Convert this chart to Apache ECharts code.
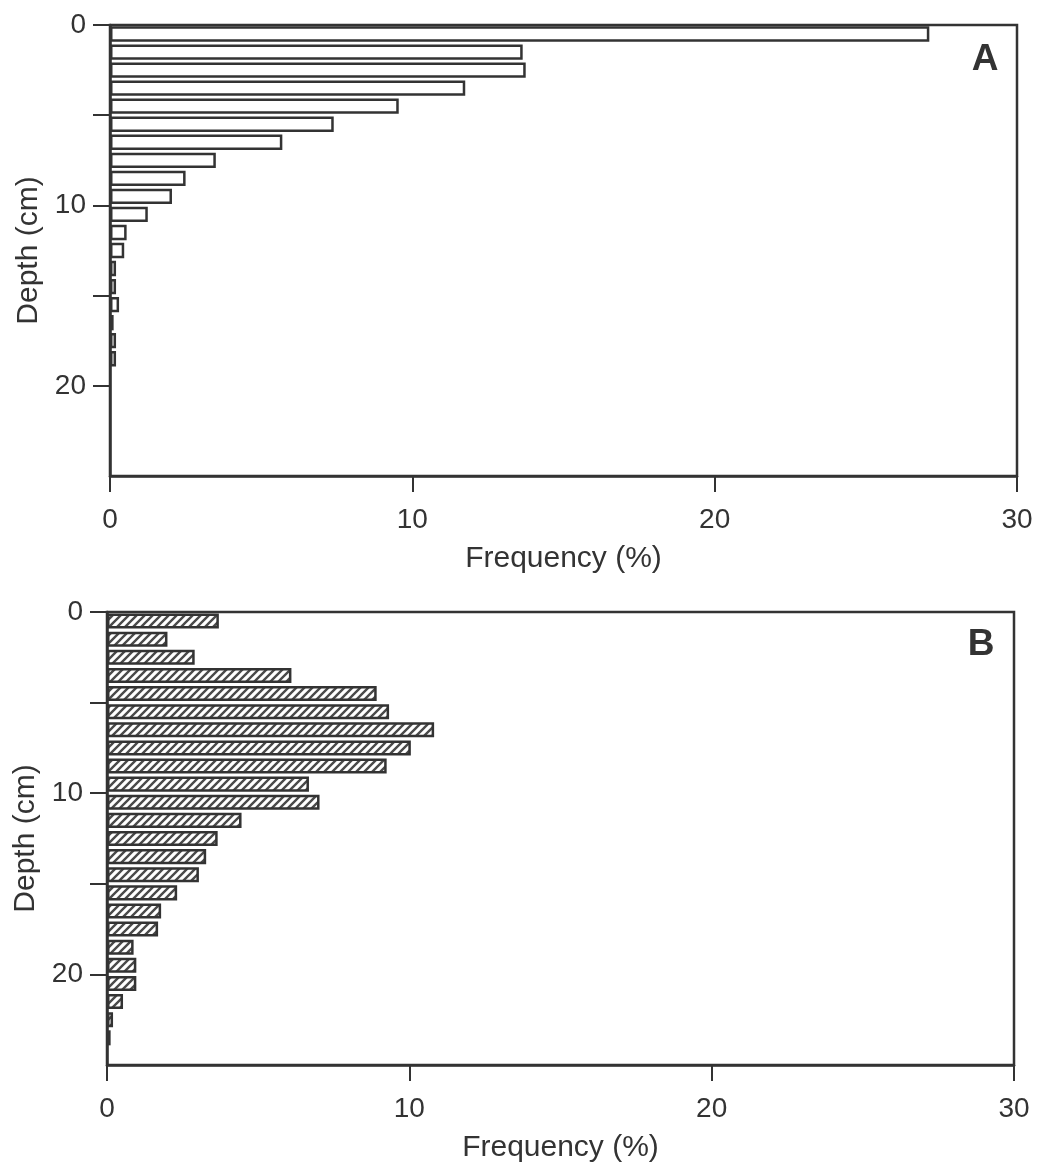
<!DOCTYPE html>
<html lang="en">
<head>
    <meta charset="UTF-8">
    <title>Depth distribution</title>
    <script src="https://cdn.jsdelivr.net/npm/echarts@6/dist/echarts.min.js"></script>
    <style type="text/css">
        html, body { margin:0; padding:0; background:#fff; }
        #main{ width:1038px; height:1169px; }
    </style>
</head>
<body>
<div id="main"></div>
<script type="application/javascript">
    // depth bins of 1 cm, from the surface down
    var depthBins = ['0-1','1-2','2-3','3-4','4-5','5-6','6-7','7-8','8-9','9-10',
                     '10-11','11-12','12-13','13-14','14-15','15-16','16-17','17-18','18-19','19-20',
                     '20-21','21-22','22-23','23-24','24-25'];
    // frequency (%) per bin, panel A (open bars)
    var freqA = [27.1, 13.65, 13.75, 11.75, 9.55, 7.4, 5.7, 3.5, 2.5, 2.05,
                 1.25, 0.55, 0.47, 0.2, 0.2, 0.3, 0.12, 0.2, 0.2];
    // frequency (%) per bin, panel B (hatched bars)
    var freqB = [3.7, 2.0, 2.9, 6.1, 8.92, 9.33, 10.82, 10.05, 9.25, 6.68,
                 7.03, 4.45, 3.66, 3.28, 3.04, 2.32, 1.79, 1.69, 0.88, 0.97,
                 0.97, 0.53, 0.2, 0.12];
    var depthTicks = [0, 5, 10, 15, 20];
    var depthLabels = [0, 10, 20];
    var freqTicks = [0, 10, 20, 30];

    var ink = '#333';
    var font = '"Liberation Sans", Arial, Helvetica, sans-serif';

    // diagonal hatch for panel B
    var hatch = document.createElement('canvas');
    hatch.width = 8;
    hatch.height = 8;
    var hc = hatch.getContext('2d');
    hc.fillStyle = '#fff';
    hc.fillRect(0, 0, 8, 8);
    hc.strokeStyle = '#4a4a4a';
    hc.lineWidth = 2.4;
    hc.beginPath();
    hc.moveTo(-1, 9); hc.lineTo(9, -1);
    hc.moveTo(-1, 1); hc.lineTo(1, -1);
    hc.moveTo(7, 9); hc.lineTo(9, 7);
    hc.stroke();

    var grids = [
        {left:110, top:25, width:907, height:451},
        {left:107, top:612, width:907, height:453}
    ];

    function xAxisFor(i) {
        return {
            type:'value', gridIndex:i, min:0, max:30, interval:10, position:'bottom',
            name:'Frequency (%)', nameLocation:'middle', nameGap:68,
            nameTextStyle:{color:ink, fontSize:30, fontFamily:font},
            axisLine:{show:true, onZero:false, lineStyle:{color:ink, width:2.5}},
            axisTick:{show:true, length:16, customValues:freqTicks, lineStyle:{color:ink, width:2}},
            axisLabel:{color:ink, fontSize:28, fontFamily:font, margin:30, customValues:freqTicks},
            splitLine:{show:false}
        };
    }
    function depthAxisFor(i) {
        return {
            type:'value', gridIndex:i, min:0, max:25, interval:5, inverse:true, position:'left',
            name:'Depth (cm)', nameLocation:'middle', nameGap:57, nameRotate:90,
            nameTextStyle:{color:ink, fontSize:30, fontFamily:font},
            axisLine:{show:true, onZero:false, lineStyle:{color:ink, width:2.5}},
            axisTick:{show:true, length:17, customValues:depthTicks, lineStyle:{color:ink, width:2}},
            axisLabel:{color:ink, fontSize:28, fontFamily:font, margin:24, customValues:depthLabels},
            splitLine:{show:false}
        };
    }
    function binAxisFor(i) {
        return {type:'category', gridIndex:i, data:depthBins, inverse:true, show:false};
    }

    var myChart = echarts.init(document.getElementById('main'));
    myChart.setOption({
        backgroundColor:'#fff',
        animation:false,
        grid:grids.map(function (g) {
            return {left:g.left, top:g.top, width:g.width, height:g.height,
                    show:true, borderColor:ink, borderWidth:2.5, backgroundColor:'transparent'};
        }),
        xAxis:[xAxisFor(0), xAxisFor(1)],
        yAxis:[binAxisFor(0), depthAxisFor(0), binAxisFor(1), depthAxisFor(1)],
        series:[{
            name:'A', type:'bar', xAxisIndex:0, yAxisIndex:0,
            data:freqA, barCategoryGap:'15%',
            itemStyle:{color:'#fff', borderColor:ink, borderWidth:2.5}
        }, {
            name:'B', type:'bar', xAxisIndex:1, yAxisIndex:2,
            data:freqB, barCategoryGap:'17%',
            itemStyle:{color:{image:hatch, repeat:'repeat'}, borderColor:ink, borderWidth:2.5}
        }],
        graphic:[
            {type:'text', x:985, y:60, style:{text:'A', fill:ink, fontSize:37, fontWeight:'bold',
                fontFamily:font, align:'center', verticalAlign:'middle'}},
            {type:'text', x:981, y:645, style:{text:'B', fill:ink, fontSize:37, fontWeight:'bold',
                fontFamily:font, align:'center', verticalAlign:'middle'}}
        ]
    });
</script>
</body>
</html>
